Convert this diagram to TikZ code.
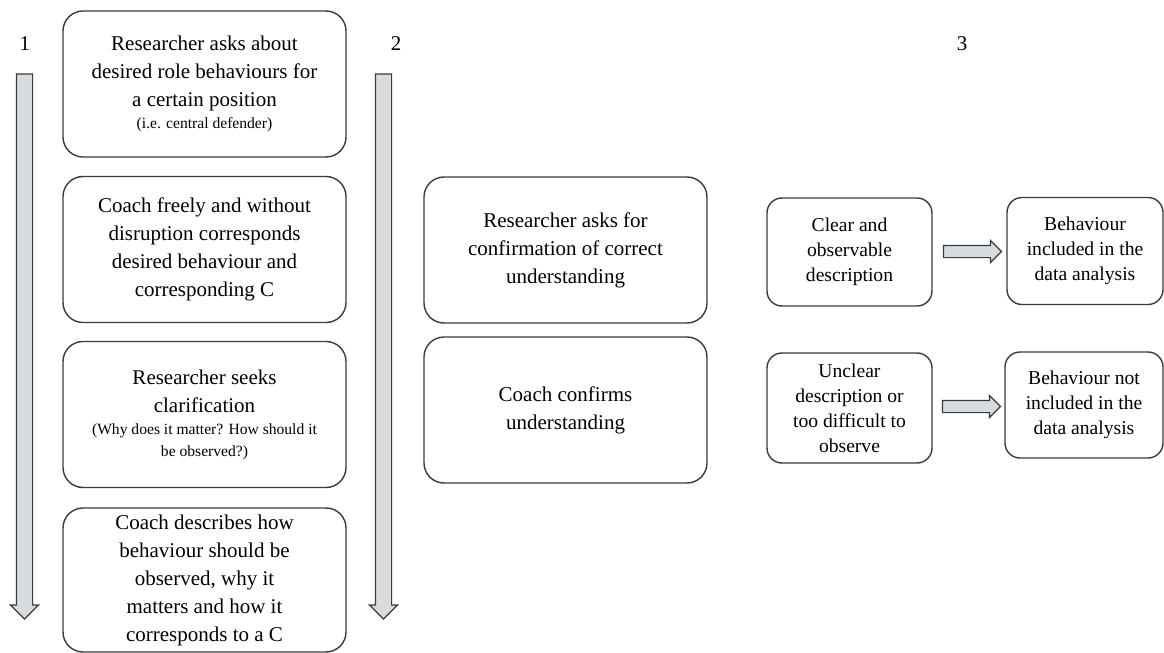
\documentclass[tikz,border=0pt]{standalone}
\usepackage{fontspec}
\setmainfont{Liberation Serif}
\usetikzlibrary{shapes.arrows}

\definecolor{edgegray}{HTML}{3A3A3A}
\definecolor{barfill}{HTML}{D8DCDF}

\newcommand{\notefont}{\fontsize{7.8}{11.5}\selectfont}

\begin{document}
\begin{tikzpicture}[%
        x = 0.5pt,
        y = -0.5pt,
        line width = 0.7pt,
        stage/.style = {draw = edgegray, rounded corners = 10pt, align = center,
            inner sep = 0pt, minimum width = 141.5pt, minimum height = 73pt,
            font = \fontsize{10.5}{14}\selectfont},
        outcome/.style = {stage, rounded corners = 7.5pt,
            font = \fontsize{9.8}{12.5}\selectfont},
        flowbar/.style = {single arrow, draw = edgegray, fill = barfill,
            line width = 0.6pt, inner xsep = 0pt, inner ysep = 3.75pt,
            single arrow head extend = 3pt},
        steparrow/.style = {flowbar, inner ysep = 2.75pt,
            single arrow head extend = 2.5pt, minimum height = 29pt},
        phase/.style = {font = \fontsize{10.5}{12}\selectfont}
    ]

        \useasboundingbox (0, 0) rectangle (1164, 653);

        % Phase numbers.
        \node[phase] (n1) at (25, 44) {1};
        \node[phase] (n2) at (396, 44) {2};
        \node[phase] (n3) at (962, 44) {3};

        % Long downward arrows along phases 1 and 2.
        \foreach \name/\xpos in {bar1/24.5, bar2/383.5}
            \node[flowbar, rotate = -90, minimum height = 272.5pt]
                (\name) at (\xpos, 342.5) {};

        % Phase 1.
        \node[stage] (ask) at (204.5, 84)
            {Researcher asks about\\ desired role behaviours for\\ a certain position\\[-3pt]
             {\notefont (i.e. central defender)}};
        \node[stage] (free) at (204.5, 249.5)
            {Coach freely and without\\ disruption corresponds\\ desired behaviour and\\
             corresponding C};
        \node[stage] (seek) at (204.5, 414.5)
            {Researcher seeks\\ clarification\\[-3pt]
             {\notefont (Why does it matter? How should it}\\[-3pt]
             {\notefont be observed?)}};
        \node[stage, minimum height = 72pt] (describe) at (204.5, 580)
            {Coach describes how\\ behaviour should be\\ observed, why it\\
             matters and how it\\ corresponds to a C};

        % Phase 2.
        \node[stage] (confirmask) at (565.5, 250)
            {Researcher asks for\\ confirmation of correct\\ understanding};
        \node[stage] (confirm) at (565.5, 410)
            {Coach confirms\\ understanding};

        % Phase 3.
        \node[outcome, minimum width = 82.5pt, minimum height = 54pt]
            (clear) at (849.5, 252) {Clear and\\ observable\\ description};
        \node[outcome, minimum width = 78pt, minimum height = 53.5pt]
            (incl) at (1085, 251) {Behaviour\\ included in the\\ data analysis};
        \node[outcome, minimum width = 82.5pt, minimum height = 55pt]
            (unclear) at (849.5, 408) {Unclear\\ description or\\ too difficult to\\ observe};
        \node[outcome, minimum width = 79pt, minimum height = 53pt]
            (excl) at (1084, 405) {Behaviour not\\ included in the\\ data analysis};

        \path (clear.east) -- (incl.west) node[steparrow, midway] (go1) {};
        \path (unclear.east) -- (excl.west) node[steparrow, midway] (go2) {};
    \end{tikzpicture}
\end{document}
